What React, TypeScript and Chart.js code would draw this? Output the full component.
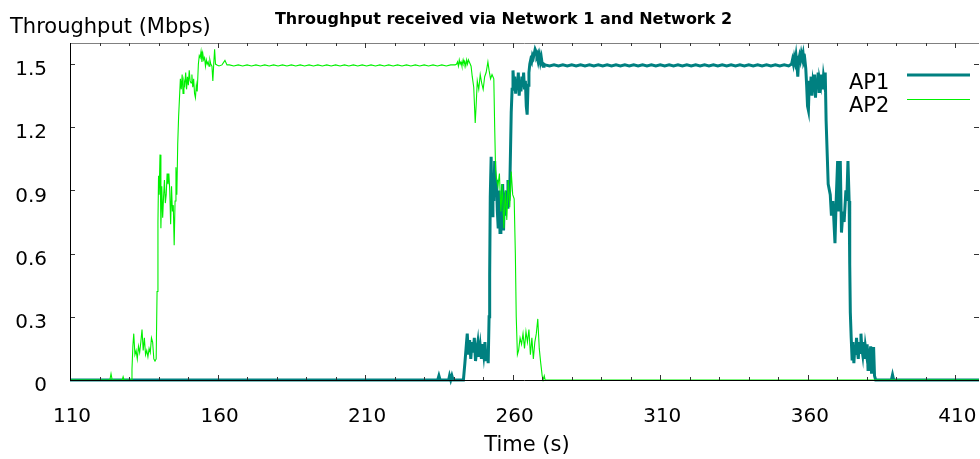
import React, { useEffect, useRef } from "react";
import { Chart, registerables } from "chart.js";

Chart.register(...registerables);

const chartTitle = "Throughput received via Network 1 and Network 2";
const yAxisLabel = "Throughput (Mbps)";
const xAxisLabel = "Time (s)";
const seriesNames = ["AP1", "AP2"];
const xTickValues = [110, 160, 210, 260, 310, 360, 410];
const yTickValues = [0, 0.3, 0.6, 0.9, 1.2, 1.5];
const xRange = [110, 418];
const yRange = [0, 1.6];

// AP1 throughput samples: [time s, Mbps]
const ap1Samples: [number, number][] = [
  [110, 0], [234.6, 0], [235, 0.02], [235.4, 0], [238.3, 0], [238.6, 0.02], [239, 0], [239.4, 0.02], [239.8, 0], [243.3, 0],
  [243.8, 0.08], [244.2, 0.15], [244.6, 0.22], [245, 0.12], [245.4, 0.19], [245.8, 0.1], [246.2, 0.18], [246.6, 0.13], [247, 0.2], [247.4, 0.09],
  [247.8, 0.14], [248.2, 0.18], [248.6, 0.11], [249, 0.16], [249.4, 0.1], [249.8, 0.17], [250.2, 0.12], [250.6, 0.18], [251, 0.09], [251.4, 0.14], [251.7, 0.08],
  [252, 0.3], [252.2, 0.5], [252.4, 0.87], [252.7, 1.06], [253, 0.78], [253.3, 0.92], [253.6, 0.85], [253.9, 1.04], [254.2, 0.88], [254.5, 0.95],
  [254.8, 0.8], [255.1, 0.72], [255.4, 0.9], [255.7, 0.7], [256, 0.86], [256.3, 0.75], [256.6, 0.93], [256.9, 0.71], [257.2, 0.89], [257.5, 0.78],
  [257.8, 0.9], [258.1, 0.82], [258.4, 0.95], [258.7, 0.85], [259, 0.9],
  [259.3, 1.12], [259.5, 1.27], [259.8, 1.38], [260.1, 1.47], [260.4, 1.4], [260.7, 1.44], [261, 1.36], [261.3, 1.42], [261.6, 1.38], [261.9, 1.46],
  [262.2, 1.35], [262.5, 1.42], [262.8, 1.37], [263.1, 1.44], [263.4, 1.39], [263.7, 1.46], [264, 1.38], [264.3, 1.42], [264.6, 1.3], [264.9, 1.26], [265.2, 1.4], [265.5, 1.46],
  [265.8, 1.5], [266.1, 1.52], [266.4, 1.51], [266.7, 1.54], [267, 1.53], [267.3, 1.55], [267.6, 1.57], [267.9, 1.56], [268.2, 1.54], [268.5, 1.55],
  [268.8, 1.52], [269.1, 1.54], [269.4, 1.51], [269.7, 1.53], [270, 1.5], [270.3, 1.49], [270.6, 1.5],
  [271, 1.496], [272.5, 1.491], [274, 1.496], [275.5, 1.491], [277, 1.496], [278.5, 1.491], [280, 1.496], [281.5, 1.491], [283, 1.496], [284.5, 1.491],
  [286, 1.496], [287.5, 1.491], [289, 1.496], [290.5, 1.491], [292, 1.496], [293.5, 1.491], [295, 1.496], [296.5, 1.491], [298, 1.496], [299.5, 1.491],
  [301, 1.496], [302.5, 1.491], [304, 1.496], [305.5, 1.491], [307, 1.496], [308.5, 1.491], [310, 1.496], [311.5, 1.491], [313, 1.496], [314.5, 1.491],
  [316, 1.496], [317.5, 1.491], [319, 1.496], [320.5, 1.491], [322, 1.496], [323.5, 1.491], [325, 1.496], [326.5, 1.491], [328, 1.496], [329.5, 1.491],
  [331, 1.496], [332.5, 1.491], [334, 1.496], [335.5, 1.491], [337, 1.496], [338.5, 1.491], [340, 1.496], [341.5, 1.491], [343, 1.496], [344.5, 1.491],
  [346, 1.496], [347.5, 1.491], [349, 1.496], [350.5, 1.491], [352, 1.496], [353.5, 1.491],
  [354.5, 1.5], [354.8, 1.52], [355.1, 1.5], [355.4, 1.53], [355.7, 1.51], [356, 1.54], [356.3, 1.5], [356.6, 1.44], [356.9, 1.52], [357.2, 1.54],
  [357.5, 1.52], [357.8, 1.55], [358.1, 1.53], [358.4, 1.55], [358.7, 1.51], [359, 1.52], [359.3, 1.48],
  [359.6, 1.4], [359.9, 1.3], [360.2, 1.28], [360.5, 1.42], [360.8, 1.36], [361.1, 1.44], [361.4, 1.35], [361.7, 1.41], [362, 1.38], [362.3, 1.45],
  [362.6, 1.34], [362.9, 1.43], [363.2, 1.39], [363.5, 1.46], [363.8, 1.37], [364.1, 1.42], [364.4, 1.4], [364.7, 1.45], [365, 1.38], [365.3, 1.44], [365.6, 1.41], [365.9, 1.46],
  [366.2, 1.23], [366.6, 1.06], [366.9, 0.93], [367.6, 0.88], [368, 0.78], [368.5, 0.85], [369.2, 0.65], [369.6, 0.85], [370.1, 1.04], [370.5, 0.8],
  [371, 1.04], [371.4, 0.7], [371.9, 0.8], [372.3, 0.75], [372.9, 0.9], [373.2, 0.85], [373.6, 1.04], [374, 0.85], [374.2, 0.55], [374.4, 0.32],
  [374.7, 0.2], [375, 0.1], [375.3, 0.18], [375.6, 0.08], [375.9, 0.15], [376.2, 0.12], [376.5, 0.2], [376.8, 0.14], [377.1, 0.1], [377.4, 0.18],
  [377.7, 0.13], [378, 0.22], [378.3, 0.15], [378.6, 0.12], [378.9, 0.18], [379.2, 0.1], [379.5, 0.16], [379.8, 0.13], [380.1, 0.17], [380.4, 0.05],
  [380.7, 0.15], [381, 0.12], [381.3, 0.16], [381.6, 0.03], [381.9, 0.15], [382.3, 0.15], [382.6, 0.02], [383, 0], [388.3, 0], [388.7, 0.025], [389.1, 0], [418, 0],
];

// AP2 throughput samples: [time s, Mbps]
const ap2Samples: [number, number][] = [
  [110, 0], [123.5, 0], [123.9, 0.03], [124.3, 0], [127.7, 0], [128, 0.015], [128.3, 0], [130.7, 0],
  [131, 0.05], [131.3, 0.16], [131.6, 0.22], [132, 0.12], [132.4, 0.14], [132.8, 0.1], [133.2, 0.16], [133.6, 0.13], [134, 0.18], [134.4, 0.24],
  [134.8, 0.14], [135.2, 0.2], [135.6, 0.12], [136, 0.14], [136.4, 0.11], [136.8, 0.15], [137.2, 0.13], [137.6, 0.2], [138, 0.18], [138.4, 0.1], [138.8, 0.09], [139.2, 0.1],
  [139.5, 0.42], [139.8, 0.75], [140, 0.97], [140.2, 0.88], [140.5, 1.07], [140.8, 0.72], [141.1, 0.92], [141.4, 0.77], [141.7, 0.87], [142, 0.95],
  [142.3, 0.84], [142.6, 0.88], [142.9, 0.98], [143.2, 0.93], [143.5, 0.98], [143.8, 0.9], [144.1, 0.74], [144.4, 0.92], [144.7, 0.8], [145, 0.83],
  [145.3, 0.64], [145.6, 0.85], [145.9, 1.01], [146.2, 0.88],
  [146.5, 1.12], [146.8, 1.25], [147.1, 1.34], [147.4, 1.43], [147.7, 1.38], [148, 1.45], [148.3, 1.36], [148.6, 1.42], [148.9, 1.4], [149.2, 1.46],
  [149.5, 1.38], [149.8, 1.44], [150.1, 1.4], [150.4, 1.47], [150.7, 1.42], [151, 1.41], [151.3, 1.45], [151.6, 1.39], [151.9, 1.43], [152.2, 1.36],
  [152.5, 1.34], [152.8, 1.4], [153.1, 1.37],
  [153.5, 1.5], [153.8, 1.54], [154.1, 1.53], [154.4, 1.56], [154.7, 1.51], [155, 1.55], [155.3, 1.52], [155.6, 1.53], [155.9, 1.49], [156.2, 1.52],
  [156.5, 1.5], [156.8, 1.51], [157.1, 1.49], [157.4, 1.52], [157.7, 1.5], [158.1, 1.49], [158.4, 1.42], [158.7, 1.5], [159, 1.57], [159.3, 1.5],
  [159.8, 1.496], [160.5, 1.491], [161.5, 1.496], [162.5, 1.517], [163.2, 1.496],
  [164, 1.496], [165.5, 1.491], [167, 1.496], [168.5, 1.491], [170, 1.496], [171.5, 1.491], [173, 1.496], [174.5, 1.491], [176, 1.496], [177.5, 1.491],
  [179, 1.496], [180.5, 1.491], [182, 1.496], [183.5, 1.491], [185, 1.496], [186.5, 1.491], [188, 1.496], [189.5, 1.491], [191, 1.496], [192.5, 1.491],
  [194, 1.496], [195.5, 1.491], [197, 1.496], [198.5, 1.491], [200, 1.496], [201.5, 1.491], [203, 1.496], [204.5, 1.491], [206, 1.496], [207.5, 1.491],
  [209, 1.496], [210.5, 1.491], [212, 1.496], [213.5, 1.491], [215, 1.496], [216.5, 1.491], [218, 1.496], [219.5, 1.491], [221, 1.496], [222.5, 1.491],
  [224, 1.496], [225.5, 1.491], [227, 1.496], [228.5, 1.491], [230, 1.496], [231.5, 1.491], [233, 1.496], [234.5, 1.491], [236, 1.496], [237.5, 1.491], [239, 1.496],
  [240.5, 1.496], [241, 1.5], [241.3, 1.51], [241.6, 1.49], [241.9, 1.52], [242.2, 1.5], [242.5, 1.51], [242.8, 1.49], [243.2, 1.52], [243.5, 1.5],
  [243.8, 1.51], [244.1, 1.49], [244.4, 1.52], [244.7, 1.5], [245, 1.52], [245.3, 1.51], [245.6, 1.5], [245.9, 1.49],
  [246.3, 1.44], [246.8, 1.39], [247.3, 1.22], [247.6, 1.3], [248, 1.42], [248.5, 1.38], [249, 1.45], [249.5, 1.41], [250, 1.38], [250.5, 1.44],
  [251, 1.46], [251.6, 1.51], [252, 1.47], [252.5, 1.43], [253, 1.45], [253.6, 1.43], [253.9, 1.2], [254.2, 1.0], [254.5, 0.96], [255, 0.92],
  [255.5, 0.98], [256, 0.8], [256.5, 0.93], [257, 0.72], [257.5, 0.9], [258, 0.76], [258.5, 0.95], [259, 0.82], [259.5, 0.99], [260, 0.88],
  [260.5, 0.86], [260.9, 0.6], [261.2, 0.3], [261.6, 0.12], [262, 0.14], [262.5, 0.2], [263, 0.17], [263.5, 0.22], [264, 0.15], [264.5, 0.23],
  [265, 0.18], [265.5, 0.24], [266, 0.12], [266.5, 0.2], [267, 0.1], [267.5, 0.18], [268, 0.22], [268.5, 0.29], [269, 0.15], [269.5, 0.08],
  [270, 0.02], [270.3, 0], [270.7, 0.02], [271, 0], [418, 0],
];

const AP1_COLOR = "#008080";
const AP2_COLOR = "#00f000";
const FONT = "'DejaVu Sans', sans-serif";

const framePlugin = {
  id: "frame",
  afterDatasetsDraw(chart: any) {
    const { ctx, chartArea } = chart;
    const xs = chart.scales.x;
    const ys = chart.scales.y;
    const { left, right, top, bottom } = chartArea;
    ctx.save();
    ctx.lineWidth = 1;
    ctx.strokeStyle = "#808080";
    ctx.beginPath();
    ctx.moveTo(left, top + 0.5);
    ctx.lineTo(right, top + 0.5);
    ctx.stroke();
    ctx.strokeStyle = "#333";
    ctx.beginPath();
    for (let v = xRange[0]; v <= xRange[1]; v += 10) {
      const px = Math.round(xs.getPixelForValue(v)) + 0.5;
      const major = (v - xRange[0]) % 50 === 0;
      const len = major ? 5 : 3;
      ctx.moveTo(px, bottom);
      ctx.lineTo(px, bottom - len);
      ctx.moveTo(px, top);
      ctx.lineTo(px, top + len);
    }
    for (const v of yTickValues) {
      const py = Math.round(ys.getPixelForValue(v)) + 0.5;
      ctx.moveTo(left, py);
      ctx.lineTo(left + 5, py);
      ctx.moveTo(right, py);
      ctx.lineTo(right - 5, py);
    }
    ctx.stroke();
    ctx.strokeStyle = "#000";
    ctx.beginPath();
    ctx.moveTo(Math.round(left) + 0.5, top);
    ctx.lineTo(Math.round(left) + 0.5, bottom);
    ctx.moveTo(left, Math.round(bottom) + 0.5);
    ctx.lineTo(right, Math.round(bottom) + 0.5);
    ctx.stroke();
    ctx.restore();
  },
  afterDraw(chart: any) {
    const { ctx } = chart;
    ctx.save();
    ctx.fillStyle = "#000";
    ctx.textBaseline = "alphabetic";
    ctx.font = `bold 16px ${FONT}`;
    ctx.textAlign = "center";
    ctx.fillText(chartTitle, 503.5, 24);
    ctx.font = `21px ${FONT}`;
    ctx.textAlign = "left";
    ctx.fillText(yAxisLabel, 10, 33);
    ctx.textAlign = "center";
    ctx.fillText(xAxisLabel, 527, 451);
    ctx.textAlign = "left";
    ctx.fillText(seriesNames[0], 849, 89);
    ctx.fillText(seriesNames[1], 849, 112);
    ctx.lineCap = "butt";
    ctx.strokeStyle = AP1_COLOR;
    ctx.lineWidth = 3;
    ctx.beginPath();
    ctx.moveTo(907, 75);
    ctx.lineTo(970, 75);
    ctx.stroke();
    ctx.strokeStyle = AP2_COLOR;
    ctx.lineWidth = 1;
    ctx.beginPath();
    ctx.moveTo(907, 99.5);
    ctx.lineTo(970, 99.5);
    ctx.stroke();
    ctx.restore();
  },
};

export default function App() {
  const canvasRef = useRef<HTMLCanvasElement | null>(null);

  useEffect(() => {
    if (!canvasRef.current) return;
    const chart = new Chart(canvasRef.current, {
      type: "line",
      data: {
        datasets: [
          {
            label: seriesNames[0],
            data: ap1Samples.map(([x, y]) => ({ x, y })),
            borderColor: AP1_COLOR,
            borderWidth: 3,
            pointRadius: 0,
            tension: 0,
            fill: false,
            order: 2,
            clip: false as any,
          },
          {
            label: seriesNames[1],
            data: ap2Samples.map(([x, y]) => ({ x, y })),
            borderColor: AP2_COLOR,
            borderWidth: 1.1,
            pointRadius: 0,
            tension: 0,
            fill: false,
            order: 1,
            clip: false as any,
          },
        ],
      },
      options: {
        animation: false,
        responsive: false,
        maintainAspectRatio: false,
        devicePixelRatio: 1,
        layout: { padding: { top: 43, right: 1, left: 0, bottom: 0 } },
        plugins: {
          legend: { display: false },
          title: { display: false },
          tooltip: { enabled: false },
        },
        events: [],
        scales: {
          x: {
            type: "linear",
            min: xRange[0],
            max: xRange[1],
            grid: { display: false },
            border: { display: false },
            afterBuildTicks: (scale: any) => {
              scale.ticks = xTickValues.map((v) => ({ value: v }));
            },
            afterFit: (scale: any) => {
              scale.height = 79;
              scale.paddingLeft = 0;
              scale.paddingRight = 0;
            },
            ticks: {
              color: "#000",
              font: { family: FONT, size: 20 },
              padding: 17,
              labelOffset: 2,
              maxRotation: 0,
              autoSkip: false,
              callback: (v: any) => String(v),
            },
          },
          y: {
            type: "linear",
            min: yRange[0],
            max: yRange[1],
            grid: { display: false },
            border: { display: false },
            afterBuildTicks: (scale: any) => {
              scale.ticks = yTickValues.map((v) => ({ value: v }));
            },
            afterFit: (scale: any) => {
              scale.width = 70;
              scale.paddingTop = 0;
              scale.paddingBottom = 0;
            },
            ticks: {
              color: "#000",
              font: { family: FONT, size: 20 },
              padding: 15,
              labelOffset: 6,
              autoSkip: false,
              callback: (v: any) => (Number(v) === 0 ? "0" : Number(v).toFixed(1)),
            },
          },
        },
      },
      plugins: [framePlugin],
    });
    return () => chart.destroy();
  }, []);

  return (
    <div style={{ position: "absolute", left: 0, top: 0, width: 980, height: 459, background: "#fff" }}>
      <canvas ref={canvasRef} width={980} height={459} style={{ display: "block", width: 980, height: 459 }} />
    </div>
  );
}
